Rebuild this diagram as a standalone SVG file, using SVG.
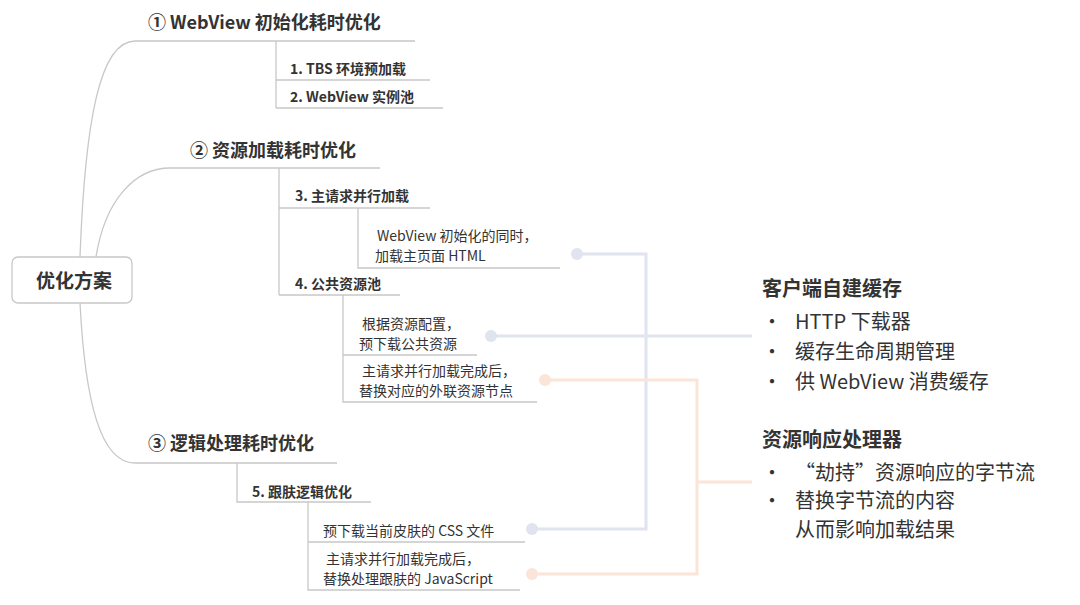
<svg xmlns="http://www.w3.org/2000/svg" width="1080" height="605" viewBox="0 0 1080 605">
<style>
text{font-family:"Noto Sans CJK SC","Noto Sans",sans-serif;fill:#333}
.t{font-size:18px;font-weight:bold}
.c{font-size:14px;font-weight:bold}
.l{font-size:14px}
.r{font-size:20px}
.ln{stroke:#c8c8c8;stroke-width:1.3;fill:none}
.b{stroke:#dfe4ee;stroke-width:3;fill:none}
.o{stroke:#fbe4d8;stroke-width:3;fill:none}
</style>
<rect width="1080" height="605" fill="#fff"/>
<g id="connectors">
<path class="ln" d="M80 257 C85 120 100 41 135 41 H415"/>
<path class="ln" d="M96 257 C105 200 135 168 170 168 H380"/>
<path class="ln" d="M80 303 C85 400 100 463 135 463 H337"/>
<path class="ln" d="M276 41 V108 M276 80 H430 M276 108 H443"/>
<path class="ln" d="M279 168 V295 M279 208 H430 M358 208 V268 H560 M279 295 H400"/>
<path class="ln" d="M343 295 V402 H537 M343 355 H477"/>
<path class="ln" d="M237 463 V502 H371 M308 502 V590 H520 M308 542 H525"/>
<path class="b" d="M577 254 H646 V529 H532 M491 336 H752"/>
<path class="o" d="M545 380 H697 V574 H532 M697 482 H752"/>
<g fill="#dfe4ee"><circle cx="577" cy="254" r="6"/><circle cx="491" cy="336" r="6"/><circle cx="532" cy="529" r="6"/></g>
<g fill="#fbe4d8"><circle cx="545" cy="380" r="6"/><circle cx="532" cy="574" r="6"/></g>
</g>
<g id="root"><rect x="12" y="257" width="120" height="46" rx="6" fill="#fff" stroke="#c8c8c8" stroke-width="1.3"/><text x="74" y="288" text-anchor="middle" style="font-size:19px;font-weight:bold">优化方案</text></g>
<g id="b1"><text class="t" x="148" y="29">① WebView 初始化耗时优化</text>
<text class="c" x="290" y="74">1. TBS 环境预加载</text><text class="c" x="290" y="102">2. WebView 实例池</text></g>
<g id="b2"><text class="t" x="190" y="157">② 资源加载耗时优化</text>
<text class="c" x="295" y="201">3. 主请求并行加载</text>
<text class="l" x="377" y="241">WebView 初始化的同时，</text><text class="l" x="375" y="261">加载主页面 HTML</text>
<text class="c" x="295" y="289">4. 公共资源池</text>
<text class="l" x="362" y="329">根据资源配置，</text><text class="l" x="359" y="349">预下载公共资源</text>
<text class="l" x="362" y="376">主请求并行加载完成后，</text><text class="l" x="359" y="396">替换对应的外联资源节点</text></g>
<g id="b3"><text class="t" x="148" y="450">③ 逻辑处理耗时优化</text>
<text class="c" x="252" y="497">5. 跟肤逻辑优化</text>
<text class="l" x="323" y="536">预下载当前皮肤的 CSS 文件</text>
<text class="l" x="326" y="564">主请求并行加载完成后，</text><text class="l" x="323" y="584">替换处理跟肤的 JavaScript</text></g>
<g id="cache"><text class="r" x="762" y="296" style="font-weight:bold">客户端自建缓存</text>
<text class="r" x="762" y="329">•</text><text class="r" x="795" y="329">HTTP 下载器</text>
<text class="r" x="762" y="359">•</text><text class="r" x="795" y="359">缓存生命周期管理</text>
<text class="r" x="762" y="389">•</text><text class="r" x="795" y="389">供 WebView 消费缓存</text></g>
<g id="handler"><text class="r" x="762" y="447" style="font-weight:bold">资源响应处理器</text>
<text class="r" x="762" y="480">•</text><text class="r" x="795" y="480">“劫持”资源响应的字节流</text>
<text class="r" x="762" y="508">•</text><text class="r" x="795" y="508">替换字节流的内容</text>
<text class="r" x="795" y="537">从而影响加载结果</text></g>
</svg>
